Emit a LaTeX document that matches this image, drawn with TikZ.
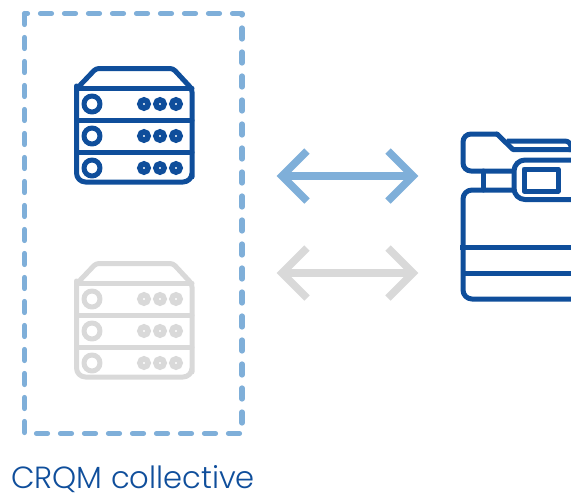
\documentclass[tikz,border=0pt]{standalone}
\usepackage{fontspec}
\setmainfont{Poppins Light}
\definecolor{deepblue}{HTML}{0F4E9B}
\definecolor{softblue}{HTML}{7FAFD9}
\definecolor{softgray}{HTML}{D9D9D9}
\tikzset{
  x=1pt,y=-1pt,
  framebox/.style={draw=softblue,line width=5.2pt,line cap=round,line join=round,dash pattern=on 11pt off 13pt},
  icon/.style={line width=5pt,line join=round,line cap=round},
  dblarrow/.style={line width=7.5pt,line join=miter,line cap=butt},
  pics/serverico/.style={code={
    \draw[icon,draw=#1,rounded corners=3pt] (76.5,89) -- (96,68.5) -- (173,68.5) -- (192,89) -- (192,174) [rounded corners=9pt] -- (192,182) -- (76.5,182) [rounded corners=3pt] -- (76.5,89) -- cycle;
    \draw[icon,draw=#1] (76.5,88) -- (192,88) (76.5,120) -- (192,120) (76.5,152) -- (192,152);
    \foreach \yy in {104,136,168}{
      \draw[icon,draw=#1] (92,\yy) circle[radius=8];
      \foreach \xx in {144,160,176}{
        \draw[draw=#1,line width=5.6pt] (\xx,\yy) circle[radius=4.1];
      }
    }
  }},
}
\begin{document}
\begin{tikzpicture}
\useasboundingbox (0,0) rectangle (571,493);
\draw[framebox] (24.5,13.5) rectangle (242,433.5);
\pic {serverico={deepblue}};
\begin{scope}[yshift=-195pt]
\pic {serverico={softgray}};
\end{scope}
% arrows
\coordinate (aL) at (282,176); \coordinate (aR) at (413,176);
\coordinate (bL) at (282,273); \coordinate (bR) at (413,273);
\draw[dblarrow,draw=softblue] (aL) -- (aR);
\draw[dblarrow,draw=softblue] (307,151) -- (aL) -- (307,201);
\draw[dblarrow,draw=softblue] (388,151) -- (aR) -- (388,201);
\draw[dblarrow,draw=softgray] (bL) -- (bR);
\draw[dblarrow,draw=softgray] (307,248) -- (bL) -- (307,298);
\draw[dblarrow,draw=softgray] (388,248) -- (bR) -- (388,298);
% printer
\begin{scope}[icon,draw=deepblue]
\draw[rounded corners=8pt,line cap=butt] (514,171) -- (463,171) -- (463,134) -- (497,134);
\draw (497,134) -- (513,149.5) -- (571,149.5);
\draw[line cap=butt,rounded corners=6pt] (507,141) -- (571,141) -- (571,152);
\draw[line cap=butt] (571,160) -- (526,160) [rounded corners=11pt] -- (514,160) -- (514,199.5) [sharp corners] -- (571,199.5);
\draw (524,169) rectangle (558,191);
\draw (483,171) -- (483,190);
\draw[rounded corners=9pt,line cap=butt] (514,190) -- (463,190) -- (463,299) -- (571,299);
\draw[line cap=butt] (460,247.5) -- (571,247.5);
\draw[line cap=butt] (463,273) -- (571,273);
\end{scope}
\node[anchor=base west,inner sep=0pt,text=deepblue,font=\fontsize{30.6pt}{34pt}\selectfont] (lbl) at (11,488) {CRQM collective};
\end{tikzpicture}
\end{document}
